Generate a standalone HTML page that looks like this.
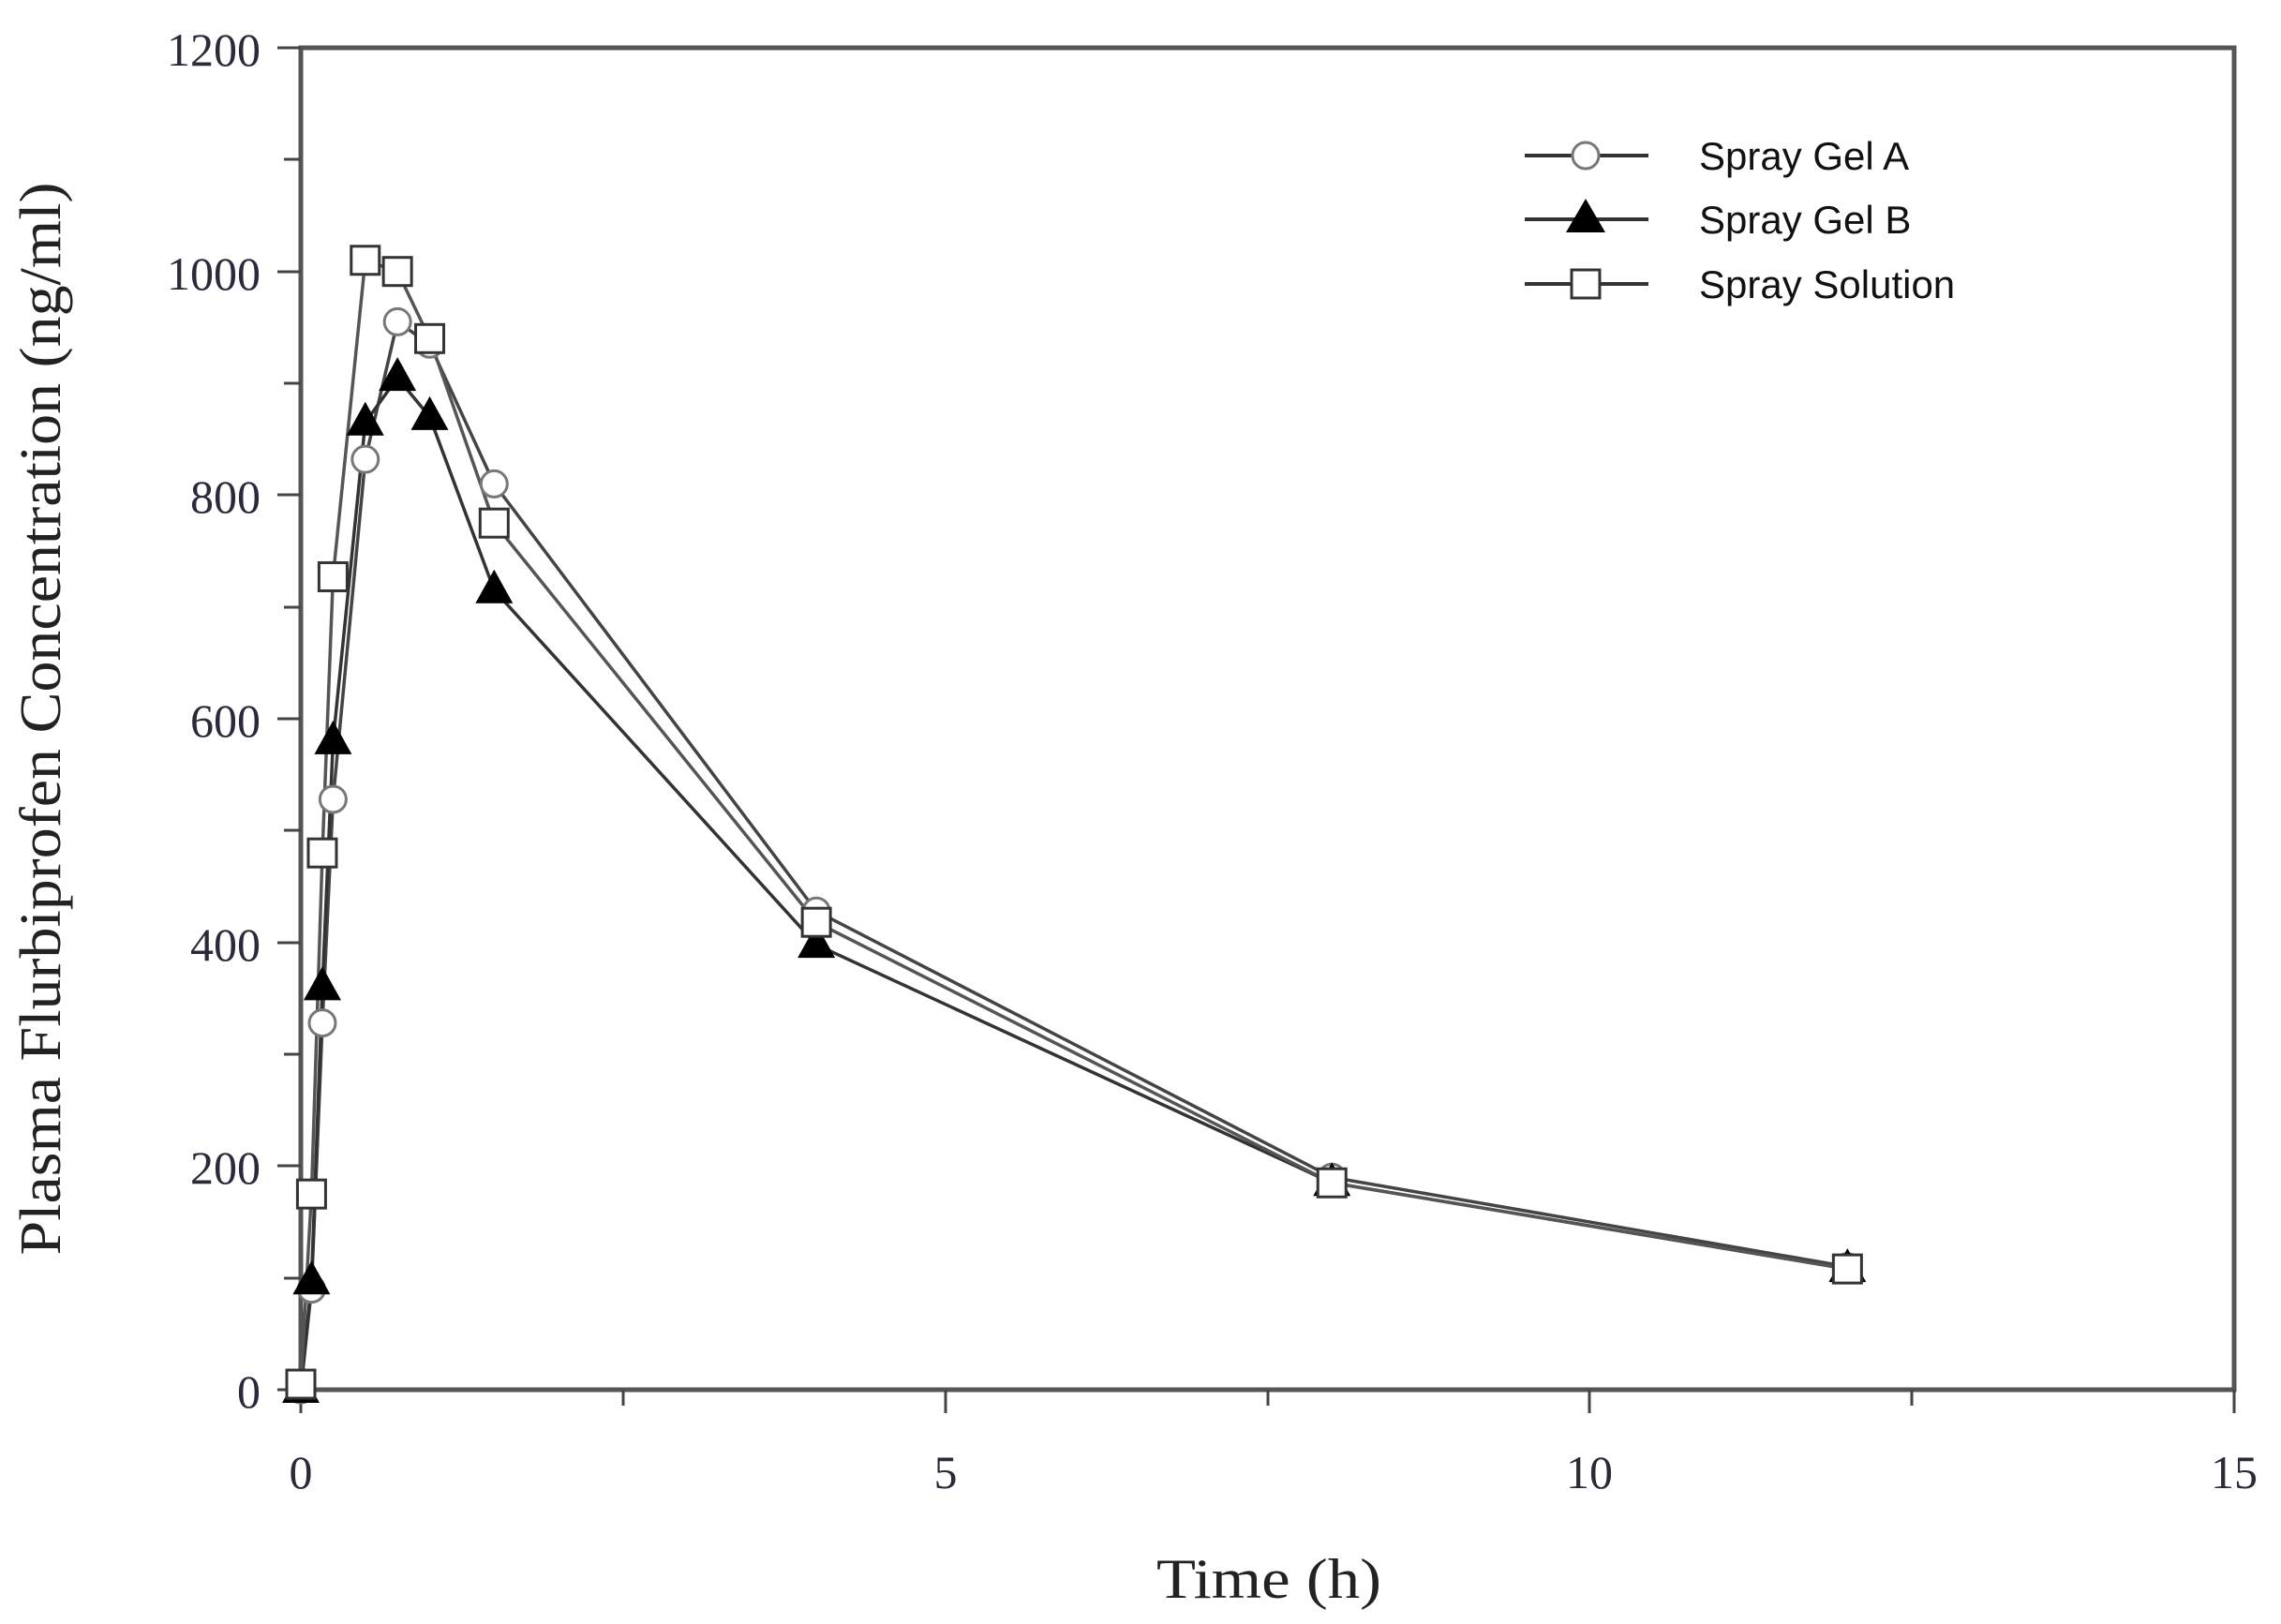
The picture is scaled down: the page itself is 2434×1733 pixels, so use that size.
<!DOCTYPE html>
<html><head><meta charset="utf-8"><style>html,body{margin:0;padding:0;background:#fff}svg{display:block}</style></head>
<body>
<svg id="s" width="2434" height="1733" viewBox="0 0 2434 1733" xmlns="http://www.w3.org/2000/svg">
<rect width="2434" height="1733" fill="#fff"/>
<g stroke="#555" stroke-width="5" fill="none">
<rect x="321" y="51" width="2063" height="1432"/>
</g>
<g stroke="#444" stroke-width="3">
<line x1="296" y1="51" x2="321" y2="51"/><line x1="303" y1="170" x2="321" y2="170"/>
<line x1="296" y1="290" x2="321" y2="290"/><line x1="303" y1="409" x2="321" y2="409"/>
<line x1="296" y1="528" x2="321" y2="528"/><line x1="303" y1="648" x2="321" y2="648"/>
<line x1="296" y1="767" x2="321" y2="767"/><line x1="303" y1="886" x2="321" y2="886"/>
<line x1="296" y1="1006" x2="321" y2="1006"/><line x1="303" y1="1125" x2="321" y2="1125"/>
<line x1="296" y1="1244" x2="321" y2="1244"/><line x1="303" y1="1364" x2="321" y2="1364"/>
<line x1="296" y1="1483" x2="321" y2="1483"/>
<line x1="321" y1="1483" x2="321" y2="1508"/><line x1="665" y1="1483" x2="665" y2="1500"/>
<line x1="1009" y1="1483" x2="1009" y2="1508"/><line x1="1353" y1="1483" x2="1353" y2="1500"/>
<line x1="1696" y1="1483" x2="1696" y2="1508"/><line x1="2040" y1="1483" x2="2040" y2="1500"/>
<line x1="2384" y1="1483" x2="2384" y2="1508"/>
</g>
<g font-family="Liberation Serif, serif" font-size="50" fill="#2a2a3a" text-anchor="end">
<text x="278" y="70">1200</text><text x="278" y="309">1000</text><text x="278" y="547">800</text>
<text x="278" y="786">600</text><text x="278" y="1025">400</text><text x="278" y="1263">200</text>
<text x="278" y="1502">0</text>
</g>
<g font-family="Liberation Serif, serif" font-size="50" fill="#2a2a3a" text-anchor="middle">
<text x="321" y="1588">0</text><text x="1009" y="1588">5</text><text x="1696" y="1588">10</text><text x="2384" y="1588">15</text>
</g>
<text x="1354" y="1705" font-family="Liberation Serif, serif" font-size="60" fill="#222" text-anchor="middle" textLength="240" lengthAdjust="spacingAndGlyphs">Time (h)</text>
<text transform="translate(64,767) rotate(-90)" font-family="Liberation Serif, serif" font-size="62" fill="#222" text-anchor="middle" textLength="1145" lengthAdjust="spacingAndGlyphs">Plasma Flurbiprofen Concentration (ng/ml)</text>
<g id="data"></g>
<g font-family="Liberation Sans, sans-serif" font-size="42" fill="#111">
<text x="1813" y="181">Spray Gel A</text><text x="1813" y="249">Spray Gel B</text><text x="1813" y="318">Spray Solution</text>
</g>
<g stroke="#333" stroke-width="4">
<line x1="1627" y1="166" x2="1759" y2="166"/><line x1="1627" y1="234" x2="1759" y2="234"/><line x1="1627" y1="303" x2="1759" y2="303"/>
</g>
<circle cx="1692" cy="166" r="14" fill="#fff" stroke="#777" stroke-width="3"/>
<polygon points="1692,212 1671,248 1713,248" fill="#000"/>
<rect x="1677" y="288" width="30" height="30" fill="#fff" stroke="#333" stroke-width="3"/>
</svg>
<script>
var X=function(t){return 321+t*137.53},Y=function(v){return 1483-v*1.1933};
var T=[0,0.083,0.167,0.25,0.5,0.75,1,1.5,4,8,12];
var A=[0,90,328,528,832,955,935,810,428,190,110];
var B=[0,97,360,580,865,905,870,715,398,185,108];
var S=[5,175,480,727,1010,1000,940,775,418,185,108];
var g=document.getElementById('data'),h='';
function line(v,c){h+='<polyline fill="none" stroke="'+c+'" stroke-width="3.5" points="'+T.map(function(t,i){return X(t).toFixed(1)+','+Y(v[i]).toFixed(1)}).join(' ')+'"/>';}
line(A,'#444');line(B,'#333');line(S,'#555');
T.forEach(function(t,i){var x=X(t),y=Y(A[i]);h+='<circle cx="'+x+'" cy="'+y+'" r="14" fill="#fff" stroke="#777" stroke-width="3"/>';});
T.forEach(function(t,i){var x=X(t),y=Y(B[i]);h+='<polygon points="'+x+','+(y-22)+' '+(x-20)+','+(y+14)+' '+(x+20)+','+(y+14)+'" fill="#000"/>';});
T.forEach(function(t,i){var x=X(t),y=Y(S[i]);h+='<rect x="'+(x-15)+'" y="'+(y-15)+'" width="30" height="30" fill="#fff" stroke="#333" stroke-width="3"/>';});
g.innerHTML=h;
</script>
</body></html>
